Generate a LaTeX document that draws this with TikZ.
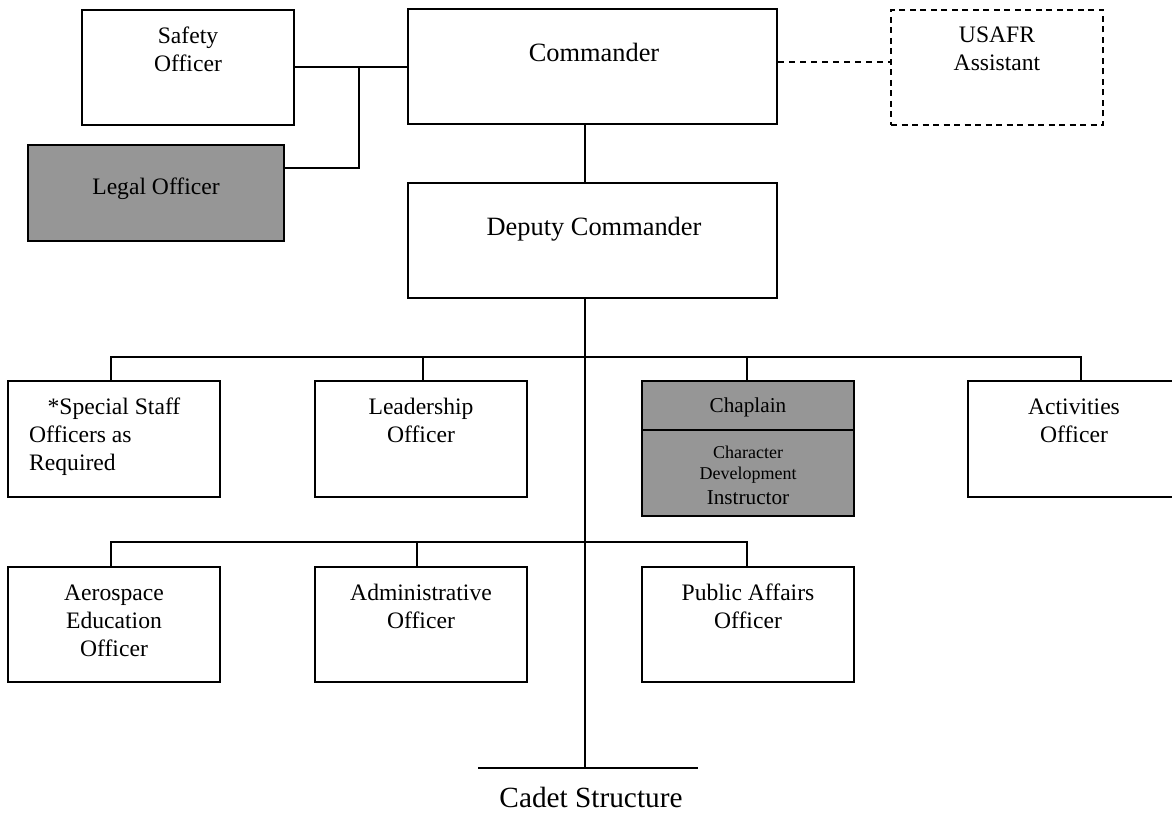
\documentclass[tikz,border=0pt]{standalone}
\usepackage{fontspec}
\setmainfont{Liberation Serif}
\usetikzlibrary{calc}
\newcommand\stack[1]{\begin{tabular}[t]{@{}c@{}}#1\end{tabular}}
\definecolor{boxgray}{RGB}{150,150,150}
\begin{document}
\begin{tikzpicture}[x=1pt,y=-1pt,
  box/.style={draw=black,line width=2pt,rectangle,inner sep=0pt,fill=white},
  graybox/.style={box,fill=boxgray},
  conn/.style={line width=2pt},
  txt/.style={inner sep=0pt,anchor=base,font=\fontsize{23.6}{28}\selectfont},
  bigtxt/.style={inner sep=0pt,anchor=base,font=\fontsize{26.4}{31}\selectfont},
  smalltxt/.style={inner sep=0pt,anchor=base,font=\fontsize{18}{21}\selectfont},
  chaptxt/.style={inner sep=0pt,anchor=base,font=\fontsize{21.2}{25}\selectfont}]
\useasboundingbox (0,0) rectangle (1172,813);
\clip (0,0) rectangle (1172,813);
\fill[white] (0,0) rectangle (1172,813);

% boxes
\node[box,minimum width=212pt,minimum height=115pt] (safety) at (188,67.5) {};
\node[graybox,minimum width=256pt,minimum height=96pt] (legal) at (156,193) {};
\node[box,minimum width=369pt,minimum height=115pt] (cmd) at (592.5,66.5) {};
\node[box,dashed,dash pattern=on 6pt off 4.5pt,minimum width=212pt,minimum height=115pt] (usafr) at (997,67.5) {};
\node[box,minimum width=369pt,minimum height=115pt] (dep) at (592.5,240.5) {};
\node[box,minimum width=212pt,minimum height=116pt] (spec) at (114,439) {};
\node[box,minimum width=212pt,minimum height=116pt] (lead) at (421,439) {};
\node[graybox,minimum width=212pt,minimum height=135pt] (chap) at (748,448.5) {};
\node[box,minimum width=212pt,minimum height=116pt] (act) at (1074,439) {};
\node[box,minimum width=212pt,minimum height=115pt] (aero) at (114,624.5) {};
\node[box,minimum width=212pt,minimum height=115pt] (admin) at (421,624.5) {};
\node[box,minimum width=212pt,minimum height=115pt] (pa) at (748,624.5) {};
\draw[line width=2pt] (chap.west |- 0,430) -- (chap.east |- 0,430);

% texts
\node[txt] (tsafety) at (188,44) {\stack{Safety\\Officer}};
\node[txt] (tlegal) at (156,194) {Legal Officer};
\node[bigtxt] (tcmd) at (594,62) {Commander};
\node[txt] (tusafr) at (997,43) {\stack{USAFR\\Assistant}};
\node[bigtxt] (tdep) at (594,235) {Deputy Commander};
\node[txt] (tspec1) at (114,414) {*Special Staff};
\node[txt,anchor=base west] (tspec2) at (29,442) {Officers as};
\node[txt,anchor=base west] (tspec3) at (29,470) {Required};
\node[txt] (tlead) at (421,414) {\stack{Leadership\\Officer}};
\node[chaptxt] (tchap) at (748,412) {Chaplain};
\node[smalltxt] (tchar) at (748,458) {\stack{Character\\[0pt]Development}};
\node[chaptxt] (tinstr) at (748,504) {Instructor};
\node[txt] (tact) at (1074,414) {\stack{Activities\\Officer}};
\node[txt] (taero) at (114,600) {\stack{Aerospace\\Education\\Officer}};
\node[txt] (tadmin) at (421,600) {\stack{Administrative\\Officer}};
\node[txt] (tpa) at (748,600) {\stack{Public Affairs\\Officer}};

% connectors
\draw[conn] (safety.east) -- (safety.east -| cmd.west);
\draw[conn] (safety.east -| 359,0) |- ($(legal.north east)+(0,24)$);
\draw[conn,dashed,dash pattern=on 6pt off 5pt] ($(cmd.east)+(0,-4.5)$) -- ($(usafr.west)+(0,-5.5)$);
\draw[conn] ($(cmd.south)+(-8,0)$) -- ($(dep.north)+(-8,0)$);
\coordinate (cadet) at (584.5,768);
\draw[conn] ($(dep.south)+(-8,0)$) -- (cadet);
% row 1 bus
\draw[conn] ($(spec.north)+(-3,0)$) -- ++(0,-23) -| ($(act.north)+(7,0)$);
\draw[conn] ($(lead.north)+(2,0)$) -- ++(0,-23);
\draw[conn] ($(chap.north)+(-1,0)$) -- ++(0,-23);
% row 2 bus
\draw[conn] ($(aero.north)+(-3,0)$) -- ++(0,-24) -| ($(pa.north)+(-1,0)$);
\draw[conn] ($(admin.north)+(-4,0)$) -- ++(0,-24);
% cadet structure
\draw[conn] ($(cadet)+(-106.5,0)$) -- ($(cadet)+(113.5,0)$);
\node[inner sep=0pt,anchor=base,font=\fontsize{29.3}{34}\selectfont] (tcadet) at (591,807) {Cadet Structure};
\end{tikzpicture}
\end{document}
